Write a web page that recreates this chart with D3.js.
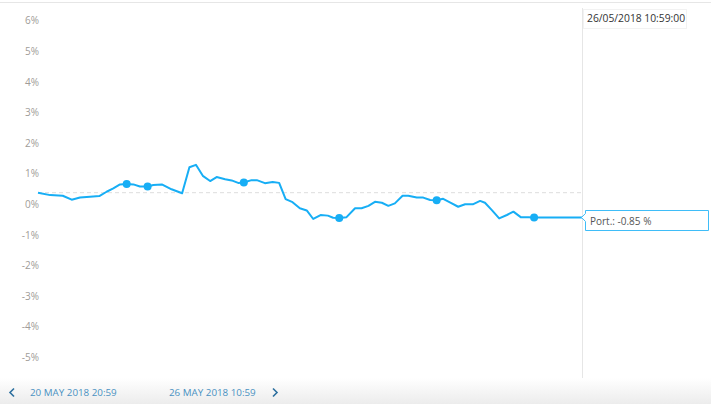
<!DOCTYPE html>
<html>
<head>
<meta charset="utf-8">
<script src="https://cdn.jsdelivr.net/npm/d3@7/dist/d3.min.js"></script>
<style>
  html, body { margin: 0; padding: 0; background: #fff; }
  svg { display: block; font-family: "Open Sans", sans-serif; }
</style>
</head>
<body>
<svg id="chart" width="711" height="404"></svg>
<script>
// ---- data ----
const startTime = "2018-05-20T20:59:00";
const endTime = "2018-05-26T10:59:00";
const hoursFromStart = [0, 3.0, 6.1, 8.3, 10.35, 12.8, 15.1, 16.9, 18.55, 20.2, 21.85, 23.5, 25.1, 27.0, 28.4, 30.5, 32.9, 35.5, 37.3, 38.9, 40.6, 42.4, 44.0, 46.1, 47.7, 49.3, 50.7, 52.6, 53.9, 55.9, 57.8, 59.4, 61.0, 62.7, 64.5, 66.2, 67.8, 69.6, 71.4, 72.7, 74.2, 76.0, 78.1, 79.7, 81.4, 83.0, 84.7, 86.3, 87.9, 89.8, 91.2, 93.3, 94.9, 96.6, 98.2, 99.8, 101.7, 103.5, 105.2, 107.1, 108.9, 110.1, 111.8, 113.6, 115.5, 117.1, 118.9, 120.8, 122.2, 134];
const portValues = [0.38, 0.30, 0.28, 0.15, 0.22, 0.25, 0.27, 0.41, 0.52, 0.65, 0.66, 0.65, 0.58, 0.58, 0.63, 0.65, 0.49, 0.36, 1.21, 1.29, 0.93, 0.76, 0.89, 0.82, 0.78, 0.70, 0.71, 0.79, 0.79, 0.69, 0.73, 0.70, 0.17, 0.07, -0.13, -0.20, -0.48, -0.35, -0.37, -0.44, -0.45, -0.42, -0.13, -0.13, -0.05, 0.08, 0.05, -0.05, 0.03, 0.28, 0.28, 0.22, 0.22, 0.14, 0.13, 0.18, 0.05, -0.08, 0.00, 0.00, 0.11, 0.05, -0.19, -0.46, -0.35, -0.24, -0.42, -0.42, -0.43, -0.43];
const markerIndices = [10, 13, 26, 40, 54, 68];
const yTicks = [6, 5, 4, 3, 2, 1, 0, -1, -2, -3, -4, -5];
const navLabels = ["20 MAY 2018 20:59", "26 MAY 2018 10:59"];
const crosshairLabel = "26/05/2018 10:59:00";
const tooltipLabel = "Port.: -0.85 %";

// ---- scales ----
const svg = d3.select("#chart");
const t0 = new Date(startTime), t1 = new Date(endTime);
const x = d3.scaleTime().domain([t0, t1]).range([38, 582]);
const y = d3.scaleLinear().domain([-5, 6]).range([357.3, 20.7]);
const data = hoursFromStart.map((h, i) => ({ t: new Date(t0.getTime() + h * 3600000), v: portValues[i] }));

// gradient for bottom bar
const defs = svg.append("defs");
const grad = defs.append("linearGradient").attr("id", "navGrad").attr("x1", 0).attr("x2", 0).attr("y1", 0).attr("y2", 1);
grad.append("stop").attr("offset", "0%").attr("stop-color", "#ffffff");
grad.append("stop").attr("offset", "100%").attr("stop-color", "#ececec");
svg.append("rect").attr("x", 0).attr("y", 378).attr("width", 711).attr("height", 26).attr("fill", "url(#navGrad)");

// top border line
svg.append("line").attr("x1", 0).attr("x2", 711).attr("y1", 2.5).attr("y2", 2.5).attr("stroke", "#e6e6e6").attr("stroke-width", 1);

// y axis labels
const yAxis = d3.axisLeft(y).tickValues(yTicks).tickSize(0).tickPadding(0).tickFormat(d => d + "%");
const yg = svg.append("g").attr("transform", "translate(39,0)").call(yAxis);
yg.select(".domain").remove();
yg.selectAll("text").attr("fill", "#a09c98").attr("font-size", "10px").attr("font-family", "Open Sans, sans-serif");

// baseline (start value) dashed line
svg.append("line")
  .attr("x1", x(data[0].t)).attr("x2", x(t1))
  .attr("y1", y(portValues[0])).attr("y2", y(portValues[0]))
  .attr("stroke", "#dddddd").attr("stroke-dasharray", "4,3").attr("stroke-width", 1);

// crosshair vertical line
svg.append("line").attr("x1", x(t1) + 0.5).attr("x2", x(t1) + 0.5).attr("y1", 8).attr("y2", 378)
  .attr("stroke", "#e6e6e6").attr("stroke-width", 1);

// series line
const line = d3.line().x(d => x(d.t)).y(d => y(d.v));
svg.append("path").datum(data).attr("d", line).attr("fill", "none")
  .attr("stroke", "#17aef5").attr("stroke-width", 2).attr("stroke-linejoin", "round");

// markers
svg.selectAll("circle.mk").data(markerIndices.map(i => data[i])).enter().append("circle")
  .attr("class", "mk").attr("cx", d => x(d.t)).attr("cy", d => y(d.v)).attr("r", 4)
  .attr("fill", "#17aef5");

// crosshair date label
const dl = svg.append("g").attr("transform", `translate(${x(t1) + 1},9)`);
dl.append("rect").attr("x", 0.5).attr("y", 0.5).attr("width", 103).attr("height", 19)
  .attr("fill", "#fff").attr("stroke", "#f2f2f2");
dl.append("text").attr("x", 4).attr("y", 13).attr("font-size", "10.3px").attr("fill", "#333").text(crosshairLabel);

// tooltip
const last = data[data.length - 1];
const ty = y(last.v);
const tg = svg.append("g");
const bx = 585.5, by = 210.5, bw = 123, bh = 20;
tg.append("path")
  .attr("d", `M${bx},${by} H${bx + bw} V${by + bh} H${bx} V${ty + 4} L${bx - 4},${ty} L${bx},${ty - 4} Z`)
  .attr("fill", "#fff").attr("stroke", "#3fbdf8").attr("stroke-width", 1);
tg.append("text").attr("x", 590).attr("y", 224.5).attr("font-size", "10px").attr("fill", "#555").text(tooltipLabel);

// bottom navigation
const nav = svg.append("g").attr("font-size", "9.8px");
nav.append("path").attr("d", "M14,388.5 L10,392.5 L14,396.5").attr("fill", "none").attr("stroke", "#2c6f9e").attr("stroke-width", 1.6);
nav.append("text").attr("x", 30).attr("y", 395.5).attr("fill", "#4a92c2").text(navLabels[0]);
nav.append("text").attr("x", 169).attr("y", 395.5).attr("fill", "#4a92c2").text(navLabels[1]);
nav.append("path").attr("d", "M273,388.5 L277,392.5 L273,396.5").attr("fill", "none").attr("stroke", "#2c6f9e").attr("stroke-width", 1.6);
</script>
</body>
</html>
